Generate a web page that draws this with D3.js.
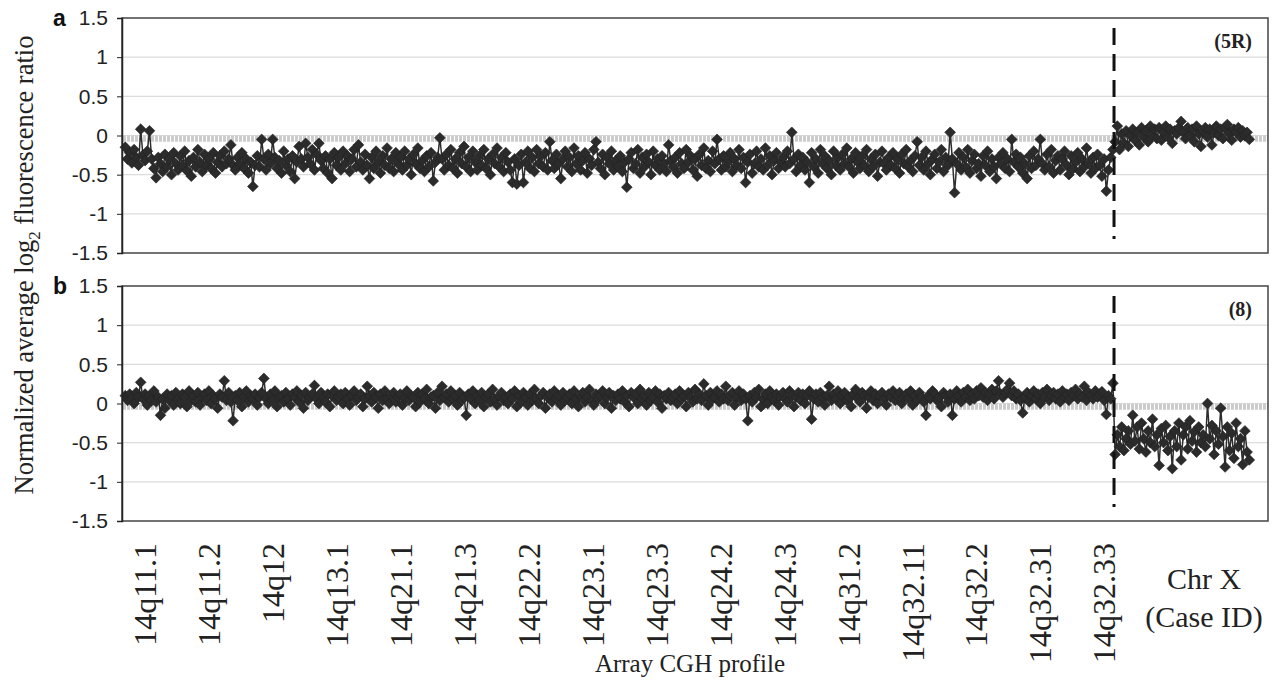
<!DOCTYPE html>
<html>
<head>
<meta charset="utf-8">
<script src="https://cdn.jsdelivr.net/npm/d3@7"></script>
<style>
  body { margin: 0; background: #fff; }
  svg { display: block; }
  .serif { font-family: "Liberation Serif", "Times New Roman", Times, Tinos, "DejaVu Serif", serif; }
  .sans { font-family: "Liberation Sans", Arial, Helvetica, sans-serif; }
</style>
</head>
<body>
<div id="chart"></div>
<script>
// y ticks shared by both panels
const yTicks = [1.5, 1, 0.5, 0, -0.5, -1, -1.5];

// cytoband labels along chromosome 14
const bandLabels = ["14q11.1", "14q11.2", "14q12", "14q13.1", "14q21.1", "14q21.3", "14q22.2", "14q23.1",
  "14q23.3", "14q24.2", "14q24.3", "14q31.2", "14q32.11", "14q32.2", "14q32.31", "14q32.33"];
const chrXLabel = ["Chr X", "(Case ID)"];

const panelLetters = ["a", "b"];
const caseIds = ["(5R)", "(8)"];

// panel a, case 5R: chromosome 14 clones (in order), then chromosome X
const case5R_chr14 = [
  -0.15, -0.30, -0.22, -0.35, -0.18, -0.28, -0.38, 0.08, -0.25, -0.32, -0.20, 0.06, -0.30, -0.42, -0.54, -0.28, -0.36, -0.46, -0.24, -0.40, -0.30, -0.50, -0.22, -0.36, -0.44,
  -0.26, -0.38, -0.20, -0.45, -0.32, -0.52, -0.28, -0.40, -0.18, -0.34, -0.46, -0.24, -0.38, -0.30, -0.42, -0.22, -0.48, -0.34, -0.26, -0.40, -0.20, -0.36, -0.30, -0.12, -0.38,
  -0.44, -0.28, -0.36, -0.22, -0.42, -0.30, -0.48, -0.34, -0.65, -0.38, -0.26, -0.40, -0.05, -0.30, -0.44, -0.24, -0.36, -0.05, -0.28, -0.42, -0.32, -0.48, -0.20, -0.38, -0.30,
  -0.46, -0.26, -0.55, -0.34, -0.14, -0.30, -0.40, -0.10, -0.28, -0.36, -0.18, -0.44, -0.24, -0.10, -0.32, -0.42, -0.26, -0.48, -0.30, -0.55, -0.22, -0.38, -0.28, -0.44, -0.20,
  -0.36, -0.26, -0.46, -0.30, -0.18, -0.40, -0.12, -0.34, -0.44, -0.24, -0.38, -0.55, -0.28, -0.42, -0.20, -0.34, -0.48, -0.26, -0.38, -0.16, -0.42, -0.30, -0.46, -0.22, -0.36,
  -0.28, -0.44, -0.20, -0.38, -0.30, -0.50, -0.24, -0.36, -0.16, -0.42, -0.32, -0.46, -0.26, -0.40, -0.22, -0.58, -0.34, -0.28, -0.03, -0.30, -0.44, -0.24, -0.38, -0.18, -0.42,
  -0.30, -0.48, -0.22, -0.36, -0.14, -0.40, -0.28, -0.46, -0.20, -0.34, -0.44, -0.26, -0.38, -0.18, -0.42, -0.30, -0.50, -0.24, -0.36, -0.16, -0.40, -0.28, -0.46, -0.22, -0.34,
  -0.44, -0.60, -0.30, -0.62, -0.38, -0.24, -0.60, -0.34, -0.20, -0.42, -0.28, -0.46, -0.18, -0.36, -0.26, -0.40, -0.22, -0.44, -0.08, -0.32, -0.42, -0.24, -0.36, -0.55, -0.30,
  -0.20, -0.40, -0.28, -0.46, -0.16, -0.36, -0.26, -0.44, -0.32, -0.22, -0.48, -0.30, -0.38, -0.18, -0.08, -0.34, -0.42, -0.24, -0.50, -0.28, -0.36, -0.20, -0.44, -0.32, -0.40,
  -0.26, -0.46, -0.34, -0.66, -0.30, -0.22, -0.42, -0.36, -0.18, -0.48, -0.28, -0.40, -0.24, -0.34, -0.50, -0.20, -0.38, -0.30, -0.44, -0.26, -0.36, -0.46, -0.12, -0.32, -0.40,
  -0.28, -0.48, -0.22, -0.36, -0.42, -0.18, -0.34, -0.26, -0.44, -0.30, -0.52, -0.24, -0.38, -0.16, -0.42, -0.32, -0.46, -0.20, -0.36, -0.05, -0.30, -0.44, -0.26, -0.40, -0.34,
  -0.22, -0.46, -0.30, -0.38, -0.18, -0.42, -0.28, -0.60, -0.34, -0.24, -0.48, -0.36, -0.20, -0.40, -0.30, -0.44, -0.16, -0.38, -0.26, -0.50, -0.32, -0.22, -0.42, -0.34, -0.28,
  -0.40, -0.20, -0.36, 0.04, -0.30, -0.46, -0.24, -0.38, -0.28, -0.44, -0.34, -0.60, -0.22, -0.40, -0.30, -0.48, -0.18, -0.36, -0.26, -0.42, -0.32, -0.50, -0.20, -0.38, -0.28,
  -0.44, -0.24, -0.36, -0.16, -0.40, -0.30, -0.48, -0.22, -0.34, -0.42, -0.26, -0.38, -0.18, -0.46, -0.30, -0.40, -0.24, -0.52, -0.34, -0.20, -0.36, -0.44, -0.28, -0.38, -0.22,
  -0.42, -0.30, -0.48, -0.24, -0.36, -0.18, -0.40, -0.32, -0.46, -0.26, -0.08, -0.38, -0.28, -0.44, -0.20, -0.36, -0.50, -0.30, -0.24, -0.42, -0.34, -0.18, -0.46, -0.28, -0.38,
  0.04, -0.30, -0.73, -0.36, -0.22, -0.44, -0.28, -0.40, -0.18, -0.48, -0.32, -0.24, -0.42, -0.36, -0.52, -0.26, -0.38, -0.20, -0.46, -0.30, -0.40, -0.55, -0.28, -0.36, -0.22,
  -0.42, -0.30, -0.46, -0.05, -0.34, -0.24, -0.40, -0.28, -0.48, -0.36, -0.55, -0.26, -0.42, -0.20, -0.38, -0.30, -0.05, -0.36, -0.44, -0.24, -0.40, -0.18, -0.48, -0.32, -0.26,
  -0.44, -0.30, -0.20, -0.38, -0.50, -0.26, -0.42, -0.34, -0.22, -0.46, -0.30, -0.40, -0.16, -0.36, -0.48, -0.28, -0.42, -0.24, -0.38, -0.52, -0.30, -0.71, -0.44, -0.28, -0.18
];
const case5R_chrX = [
  -0.08, 0.12, -0.18, 0.02, -0.10, 0.06, -0.14, 0.00, 0.08, -0.06,
  0.04, -0.12, 0.10, -0.02, 0.06, -0.08, 0.12, 0.00, 0.08, -0.04,
  0.10, -0.06, 0.04, 0.12, -0.02, 0.08, -0.10, 0.06, 0.02, 0.10,
  0.18, 0.04, -0.04, 0.10, 0.00, 0.08, -0.08, 0.12, 0.02, -0.14,
  0.06, 0.10, -0.02, 0.08, -0.12, 0.04, 0.12, 0.00, 0.08, -0.04,
  0.10, 0.14, 0.02, -0.06, 0.08, 0.04, 0.10, -0.02, 0.06, 0.00,
  0.04, -0.05
];

// panel b, case 8
const case8_chr14 = [
  0.10, 0.04, 0.12, 0.06, 0.00, 0.14, 0.08, 0.27, 0.06, 0.12, -0.02, 0.10, 0.04, 0.16, 0.02, 0.08, -0.15, 0.06, -0.06, 0.12, 0.04, 0.10, -0.02, 0.14, 0.06,
  0.00, 0.12, 0.08, -0.04, 0.16, 0.04, 0.10, 0.02, 0.14, -0.02, 0.08, 0.12, 0.04, 0.16, 0.00, 0.10, 0.06, -0.06, 0.12, 0.08, 0.29, 0.04, 0.14, 0.02, -0.22,
  0.10, 0.04, 0.14, -0.04, 0.08, 0.16, 0.02, 0.10, 0.06, 0.12, -0.02, 0.08, 0.14, 0.32, 0.06, 0.00, 0.12, 0.04, 0.16, -0.04, 0.08, 0.10, 0.02, 0.14, 0.06,
  -0.02, 0.12, 0.08, 0.16, 0.02, 0.10, -0.06, 0.14, 0.04, 0.08, 0.12, 0.23, 0.06, 0.00, 0.14, 0.08, 0.02, 0.12, -0.04, 0.10, 0.16, 0.04, 0.08, 0.12, 0.00,
  0.14, 0.06, -0.02, 0.10, 0.16, 0.04, 0.08, 0.12, -0.04, 0.06, 0.22, 0.10, 0.02, 0.14, 0.08, -0.06, 0.12, 0.04, 0.16, 0.06, 0.00, 0.10, 0.14, 0.02, 0.08,
  0.12, -0.02, 0.06, 0.16, 0.04, 0.10, 0.08, -0.04, 0.14, 0.02, 0.12, 0.06, 0.18, 0.00, 0.08, 0.10, -0.06, 0.14, 0.04, 0.22, 0.08, 0.12, 0.02, 0.16, 0.06,
  0.10, -0.02, 0.14, 0.04, 0.08, -0.15, 0.12, 0.06, 0.16, 0.00, 0.10, 0.04, 0.14, -0.04, 0.08, 0.12, 0.02, 0.18, 0.06, -0.02, 0.10, 0.14, 0.04, 0.08, 0.00,
  0.12, 0.06, 0.16, -0.04, 0.10, 0.02, 0.14, 0.08, -0.02, 0.12, 0.04, 0.18, 0.06, 0.00, 0.10, 0.14, -0.06, 0.08, 0.12, 0.02, 0.16, 0.06, 0.10, -0.02, 0.14,
  0.04, 0.08, 0.12, 0.00, 0.16, 0.06, -0.04, 0.10, 0.14, 0.02, 0.08, 0.18, 0.04, -0.02, 0.12, 0.06, 0.10, 0.16, 0.00, 0.08, 0.14, -0.06, 0.10, 0.04, 0.12,
  0.06, 0.16, 0.02, 0.10, -0.04, 0.14, 0.08, 0.12, 0.00, 0.18, 0.06, 0.10, -0.02, 0.14, 0.04, 0.08, 0.16, 0.02, 0.12, -0.06, 0.10, 0.06, 0.14, 0.04, 0.08,
  0.12, 0.00, 0.16, 0.06, 0.10, -0.04, 0.14, 0.08, 0.02, 0.18, 0.06, 0.12, 0.04, 0.25, 0.10, -0.02, 0.14, 0.06, 0.08, 0.16, 0.02, 0.12, 0.06, 0.22, 0.04,
  0.10, 0.14, -0.02, 0.08, 0.16, 0.04, 0.12, 0.06, -0.22, 0.10, 0.02, 0.14, 0.08, 0.18, -0.04, 0.06, 0.12, 0.00, 0.16, 0.08, 0.04, 0.12, -0.02, 0.10, 0.14,
  0.06, 0.02, 0.16, 0.10, -0.04, 0.08, 0.14, 0.04, 0.12, 0.00, 0.10, 0.16, -0.20, 0.06, 0.12, 0.02, 0.14, 0.08, -0.02, 0.10, 0.22, 0.04, 0.12, 0.06, 0.16,
  0.00, 0.10, 0.14, 0.04, 0.08, -0.04, 0.12, 0.18, 0.06, 0.02, 0.14, 0.10, -0.06, 0.08, 0.16, 0.04, 0.12, 0.00, 0.10, 0.14, 0.06, -0.02, 0.12, 0.08, 0.16,
  0.04, 0.10, 0.14, 0.00, 0.08, 0.12, 0.06, 0.16, -0.02, 0.10, 0.04, 0.14, 0.08, 0.02, -0.15, 0.10, 0.06, 0.16, 0.12, 0.04, 0.08, -0.04, 0.14, 0.10, 0.02,
  0.12, -0.15, 0.06, 0.16, 0.10, 0.02, 0.14, 0.08, 0.18, 0.04, 0.12, 0.06, 0.16, 0.10, 0.20, 0.08, 0.14, 0.04, 0.12, 0.18, 0.06, 0.16, 0.29, 0.12, 0.08,
  0.14, 0.18, 0.26, 0.10, 0.16, 0.06, 0.12, 0.04, -0.12, 0.08, 0.14, 0.02, 0.10, 0.16, 0.06, 0.12, 0.00, 0.14, 0.08, 0.18, 0.04, 0.10, 0.14, 0.06, 0.12,
  0.02, 0.16, 0.08, 0.12, 0.04, 0.14, 0.10, 0.18, 0.06, 0.12, 0.08, 0.22, 0.04, 0.14, 0.10, 0.06, 0.16, 0.08, 0.12, 0.15, 0.04, -0.14, 0.10, 0.06, 0.26
];
const case8_chrX = [
  -0.65, -0.40, -0.55, -0.30, -0.60, -0.45, -0.35, -0.52, -0.15, -0.48,
  -0.30, -0.58, -0.25, -0.45, -0.62, -0.35, -0.50, -0.20, -0.55, -0.40,
  -0.79, -0.32, -0.50, -0.28, -0.60, -0.42, -0.83, -0.35, -0.55, -0.25,
  -0.72, -0.40, -0.30, -0.58, -0.22, -0.48, -0.36, -0.62, -0.30, -0.50,
  -0.40, -0.55, 0.00, -0.45, -0.28, -0.65, -0.35, -0.52, -0.06, -0.42,
  -0.81, -0.30, -0.60, -0.38, -0.70, -0.25, -0.55, -0.45, -0.78, -0.35,
  -0.62, -0.72
];

const W = 1278, H = 681;
const margin = {left: 122, right: 10};
const panelTops = [18, 286];
const panelHeight = 235;

const nClones = case5R_chr14.length + case5R_chrX.length;

let svg = d3.select("#chart").append("svg")
  .attr("width", W)
  .attr("height", H);

// clone index -> horizontal position
let xScale = d3.scaleLinear()
  .domain([-1.5, nClones + 7.5])
  .range([margin.left, W - margin.right]);

function drawPanel(top, letter, caseId, chr14, chrX) {

  let yScale = d3.scaleLinear()
    .domain([-1.5, 1.5])
    .range([top + panelHeight, top]);

  let boundary = chr14.length - 0.5;

  let g = svg.append("g");

  // gridlines
  g.append("g").selectAll("line")
    .data(yTicks.filter(d => Math.abs(d) < 1.5))
    .join("line")
    .attr("x1", margin.left).attr("x2", W - margin.right)
    .attr("y1", d => yScale(d)).attr("y2", d => yScale(d))
    .attr("stroke", "#dcdcdc")
    .attr("stroke-width", 1.2);

  // light grey zero reference band
  g.append("line")
    .attr("x1", margin.left + 1).attr("x2", W - margin.right)
    .attr("y1", (yScale(0) + yScale(-0.08)) / 2)
    .attr("y2", (yScale(0) + yScale(-0.08)) / 2)
    .attr("stroke", "#cccccc")
    .attr("stroke-width", yScale(-0.08) - yScale(0))
    .style("stroke-dasharray", "3,1");

  let values = chr14.concat(chrX).map((v, i) => ({i: i, v: v}));

  let line = d3.line()
    .x(d => xScale(d.i))
    .y(d => yScale(d.v));

  g.append("path")
    .datum(values)
    .attr("d", line)
    .attr("fill", "none")
    .attr("stroke", "#2e2e2e")
    .attr("stroke-width", 1.5);

  let diamond = d3.symbol().type(d3.symbolSquare).size(58);
  g.append("g").selectAll("path")
    .data(values)
    .join("path")
    .attr("d", diamond)
    .attr("transform", d => "translate(" + xScale(d.i) + "," + yScale(d.v) + ") rotate(45)")
    .attr("fill", "#2b2b2b")
    .attr("stroke", "#222")
    .attr("stroke-width", 0.6);

  // dashed separator between chr14 and chrX
  g.append("line")
    .attr("x1", xScale(boundary)).attr("x2", xScale(boundary))
    .attr("y1", top + 10).attr("y2", top + panelHeight - 14)
    .attr("stroke", "#111")
    .attr("stroke-width", 3)
    .style("stroke-dasharray", "17,9");

  // frame
  g.append("rect")
    .attr("x", margin.left).attr("y", top)
    .attr("width", W - margin.right - margin.left)
    .attr("height", panelHeight)
    .attr("fill", "none")
    .attr("stroke", "#444")
    .attr("stroke-width", 1.5);

  // y axis
  let yAxis = d3.axisLeft(yScale).tickValues(yTicks).tickSize(5).tickFormat(d => String(d));
  let ax = g.append("g")
    .attr("transform", "translate(" + margin.left + ",0)")
    .call(yAxis);
  ax.attr("font-family", null).attr("font-size", null);
  ax.select(".domain").attr("stroke", "#222").attr("stroke-width", 1.5);
  ax.selectAll(".tick line").attr("stroke", "#222");
  ax.selectAll(".tick text")
    .attr("x", -14)
    .attr("class", "sans")
    .style("font-size", "21px")
    .attr("fill", "#222");

  // panel letter
  g.append("text")
    .attr("class", "sans")
    .attr("x", 53).attr("y", top + 8)
    .style("font-weight", "bold")
    .style("font-size", "23px")
    .attr("fill", "#111")
    .text(letter);

  // case id
  g.append("text")
    .attr("class", "serif")
    .attr("x", 1252).attr("y", top + 30)
    .style("text-anchor", "end")
    .style("font-weight", "bold")
    .style("font-size", "20px")
    .attr("fill", "#222")
    .text(caseId);
}

drawPanel(panelTops[0], panelLetters[0], caseIds[0], case5R_chr14, case5R_chrX);
drawPanel(panelTops[1], panelLetters[1], caseIds[1], case8_chr14, case8_chrX);

// cytoband labels
let bandScale = d3.scalePoint()
  .domain(bandLabels)
  .range([xScale(9), xScale(445)]);

svg.append("g").selectAll("text")
  .data(bandLabels)
  .join("text")
  .attr("class", "serif")
  .attr("transform", d => "translate(" + bandScale(d) + ",543) rotate(-90)")
  .attr("dy", "0.35em")
  .style("text-anchor", "end")
  .style("font-size", "32px")
  .attr("fill", "#222")
  .text(d => d);

svg.append("g").selectAll("text")
  .data(chrXLabel)
  .join("text")
  .attr("class", "serif")
  .attr("x", 1204)
  .attr("y", (d, i) => 589 + i * 38)
  .style("text-anchor", "middle")
  .style("font-size", "30px")
  .attr("fill", "#222")
  .text(d => d);

// axis titles
svg.append("text")
  .attr("class", "serif")
  .attr("x", 690).attr("y", 672)
  .style("text-anchor", "middle")
  .style("font-size", "25px")
  .attr("fill", "#222")
  .text("Array CGH profile");

let ytitle = svg.append("text")
  .attr("class", "serif")
  .attr("transform", "translate(33,265) rotate(-90)")
  .style("text-anchor", "middle")
  .style("font-size", "26.5px")
  .attr("fill", "#222");
ytitle.append("tspan").text("Normalized average log");
ytitle.append("tspan").attr("dy", 7).style("font-size", "17px").text("2");
ytitle.append("tspan").attr("dy", -7).text(" fluorescence ratio");
</script>
</body>
</html>
